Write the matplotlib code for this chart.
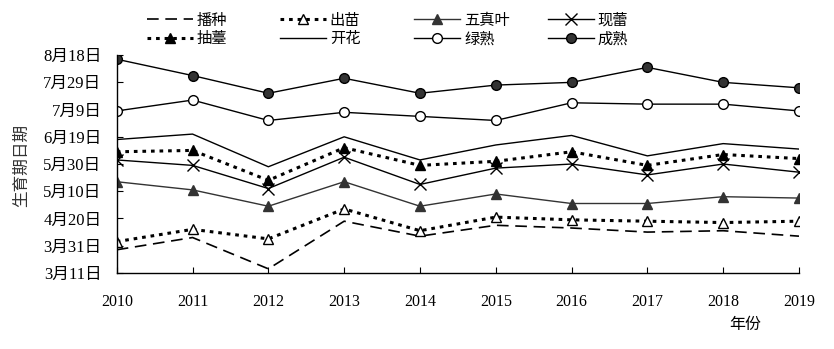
import matplotlib
matplotlib.use('Agg')
import matplotlib.pyplot as plt
import datetime

plt.rcParams['font.family'] = ['Liberation Serif', 'Noto Sans CJK SC', 'DejaVu Sans']
plt.rcParams['font.size'] = 11

# data: day of year for each stage
years = [2010, 2011, 2012, 2013, 2014, 2015, 2016, 2017, 2018, 2019]
sowing = [87, 96, 73, 108, 97, 105, 103, 100, 101, 97]          # 播种
emergence = [93, 102, 95, 117, 101, 111, 109, 108, 107, 108]    # 出苗
five_leaf = [137, 131, 119, 137, 119, 128, 121, 121, 126, 125]  # 五真叶
budding = [153, 149, 132, 155, 135, 147, 150, 142, 150, 144]    # 现蕾
bolting = [159, 160, 138, 162, 149, 152, 159, 149, 157, 154]    # 抽薹
flowering = [168, 172, 148, 170, 153, 164, 171, 156, 165, 161]  # 开花
green_ripe = [189, 197, 182, 188, 185, 182, 195, 194, 194, 189] # 绿熟
mature = [227, 215, 202, 213, 202, 208, 210, 221, 210, 206]     # 成熟

ytick_days = [70, 90, 110, 130, 150, 170, 190, 210, 230]


def day_label(d):
    dt = datetime.date(2019, 1, 1) + datetime.timedelta(days=d - 1)
    return '%d月%d日' % (dt.month, dt.day)


fig = plt.figure(figsize=(8.34, 3.49), dpi=100)
ax = fig.add_axes([0.140, 0.218, 0.818, 0.624])

dots = (0, (1.2, 1.6))
h1, = ax.plot(years, sowing, color='black', lw=1.2, ls=(0, (7, 4)), label='播种')
h2, = ax.plot(years, emergence, color='black', lw=2.2, ls=dots, marker='^', ms=7.5,
              mfc='white', mec='black', mew=1.0, label='出苗')
h3, = ax.plot(years, five_leaf, color='#333333', lw=1.0, marker='^', ms=7.5,
              mfc='#333333', mec='#333333', label='五真叶')
h4, = ax.plot(years, budding, color='black', lw=1.0, marker='x', ms=8, mew=1.0,
              label='现蕾')
h5, = ax.plot(years, bolting, color='black', lw=2.2, ls=dots, marker='^', ms=7.5,
              mfc='black', mec='black', label='抽薹')
h6, = ax.plot(years, flowering, color='black', lw=1.0, label='开花')
h7, = ax.plot(years, green_ripe, color='black', lw=1.0, marker='o', ms=7,
              mfc='white', mec='black', mew=1.0, label='绿熟')
h8, = ax.plot(years, mature, color='black', lw=1.0, marker='o', ms=7,
              mfc='#333333', mec='black', mew=1.0, label='成熟')

ax.set_xlim(2010, 2019)
ax.set_ylim(70, 230)
ax.set_xticks(years)
ax.set_yticks(ytick_days)
ax.set_yticklabels([day_label(d) for d in ytick_days])
ax.tick_params(direction='in', length=4, width=0.8)
ax.tick_params(axis='x', labelsize=11.5, pad=15)
ax.tick_params(axis='y', labelsize=12, pad=11)
for side in ['top', 'right']:
    ax.spines[side].set_visible(False)
for side in ['left', 'bottom']:
    ax.spines[side].set_linewidth(1.0)

fig.text(0.026, 0.527, '生育期日期', fontsize=12, color='#333333', rotation=90,
         ha='center', va='center')
fig.text(0.893, 0.069, '年份', fontsize=11.5, ha='center', va='center')

# one legend per column so the columns sit at even spacing
columns = [(h1, h5), (h2, h6), (h3, h7), (h4, h8)]
col_x = [0.176, 0.336, 0.497, 0.657]
for hs, x in zip(columns, col_x):
    fig.legend(handles=list(hs), loc='center left', bbox_to_anchor=(x, 0.914),
               frameon=False, handlelength=3.0, handletextpad=0.25,
               labelspacing=0.3, borderpad=0, borderaxespad=0, fontsize=11)

plt.savefig('out.png', dpi=100)
